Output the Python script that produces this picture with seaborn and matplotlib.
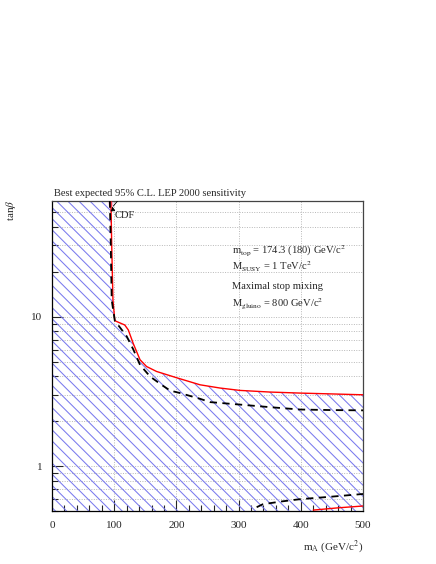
import numpy as np
import pandas as pd
import matplotlib
matplotlib.use("Agg")
import matplotlib.pyplot as plt
import seaborn as sns
from matplotlib.ticker import FixedLocator, NullFormatter, MultipleLocator

# ---- data ----
red_upper_x = [94.7, 96.0, 98.0, 101.0, 117.0, 122.7, 130.7, 141.5, 152.0, 168.0, 200.5, 238.0, 270.0, 302.0, 350.0, 398.7, 450.0, 500.0]
red_upper_y = [60.0, 30.0, 12.9, 9.4, 8.8, 8.15, 6.6, 5.15, 4.64, 4.3, 3.9, 3.5, 3.33, 3.21, 3.13, 3.08, 3.04, 3.0]

dash_upper_x = [93.0, 94.5, 96.0, 101.0, 109.0, 120.0, 131.0, 141.5, 157.6, 176.0, 190.0, 206.0, 238.0, 254.0, 302.0, 350.0, 399.0, 450.0, 500.0]
dash_upper_y = [60.0, 30.0, 12.9, 9.4, 8.5, 7.4, 6.0, 4.76, 3.98, 3.5, 3.2, 3.08, 2.82, 2.68, 2.58, 2.48, 2.39, 2.37, 2.36]

dash_lower_x = [329.0, 339.0, 370.0, 399.0, 452.0, 500.0]
dash_lower_y = [0.53, 0.555, 0.58, 0.60, 0.625, 0.65]

red_lower_x = [420.0, 460.0, 500.0]
red_lower_y = [0.507, 0.525, 0.54]

cdf_x = [90.0, 99.7, 97.0, 92.0]
cdf_y = [60.0, 60.0, 53.0, 53.0]

x_ticks = [0, 100, 200, 300, 400, 500]
y_major = [1, 10]
y_minor = [0.5, 0.6, 0.7, 0.8, 0.9, 2, 3, 4, 5, 6, 7, 8, 9, 20, 30, 40, 50]

title = "Best expected 95% C.L. LEP 2000 sensitivity"
info_lines = [r"m$_{\rm top}$ = 174.3 (180) GeV/c$^{2}$",
              r"M$_{\rm SUSY}$ = 1 TeV/c$^{2}$",
              "Maximal stop mixing",
              r"M$_{\rm gluino}$ = 800 GeV/c$^{2}$"]

XMIN, XMAX, YMIN, YMAX = 0, 500, 0.5, 60

sns.set_theme(style="white")
plt.rcParams["font.family"] = ["Liberation Serif", "DejaVu Serif"]
plt.rcParams["mathtext.fontset"] = "stix"
plt.rcParams["hatch.color"] = "#7a7aee"
plt.rcParams["hatch.linewidth"] = 0.75

fig = plt.figure(figsize=(4.36, 5.64), dpi=100)
ax = fig.add_axes([52/436, 1-511/564, 311/436, 310.5/564])
ax.set_yscale("log")
ax.set_xlim(XMIN, XMAX)
ax.set_ylim(YMIN, YMAX)

# hatched excluded region
px = [XMIN, XMIN] + red_upper_x + [XMAX]
py = [YMIN, YMAX] + red_upper_y + [YMIN]
ax.fill(px, py, facecolor="none", edgecolor="#7a7aee", hatch="\\\\\\", linewidth=0, zorder=1)
ax.fill(cdf_x, cdf_y, facecolor="#f4b8d8", edgecolor="none", zorder=1.5)

df_ru = pd.DataFrame({"x": red_upper_x, "y": red_upper_y})
df_du = pd.DataFrame({"x": dash_upper_x, "y": dash_upper_y})
df_dl = pd.DataFrame({"x": dash_lower_x, "y": dash_lower_y})
df_rl = pd.DataFrame({"x": red_lower_x, "y": red_lower_y})

sns.lineplot(data=df_ru, x="x", y="y", sort=False, estimator=None, color="red", lw=1.0, ax=ax, zorder=3)
sns.lineplot(data=df_rl, x="x", y="y", sort=False, estimator=None, color="red", lw=1.0, ax=ax, zorder=3)
sns.lineplot(data=df_du, x="x", y="y", sort=False, estimator=None, color="black", lw=1.3, ax=ax, zorder=4, dashes=False)
sns.lineplot(data=df_dl, x="x", y="y", sort=False, estimator=None, color="black", lw=1.3, ax=ax, zorder=4, dashes=False)
for ln in ax.lines[2:4]:
    ln.set_dashes((4, 3))

# grid
ax.xaxis.set_major_locator(FixedLocator(x_ticks))
ax.xaxis.set_minor_locator(MultipleLocator(20))
ax.yaxis.set_major_locator(FixedLocator(y_major))
ax.yaxis.set_minor_locator(FixedLocator(y_minor))
ax.yaxis.set_minor_formatter(NullFormatter())
ax.set_yticklabels([str(v) for v in y_major])
ax.set_xticklabels([str(v) for v in x_ticks])
for v in x_ticks[1:-1]:
    ax.axvline(v, color="#b8b8b8", lw=0.7, ls=(0, (1, 1.5)), zorder=0.5)
for v in y_major + y_minor:
    if YMIN < v < YMAX:
        ax.axhline(v, color="#b8b8b8", lw=0.7, ls=(0, (1, 1.5)), zorder=0.5)

ax.tick_params(axis="both", which="major", direction="in", length=8, width=0.8, labelsize=8, pad=7,
               bottom=True, left=True, top=False, right=False)
ax.tick_params(axis="both", which="minor", direction="in", length=4, width=0.8,
               bottom=True, left=True, top=False, right=False)
for s in ax.spines.values():
    s.set_color("black")
    s.set_linewidth(0.9)
ax.spines["right"].set_color("#444444")
ax.spines["top"].set_color("#444444")

ax.set_xlabel("")
ax.set_ylabel("")
fig.text(363/436, 1-547/564, r"m$_{\rm A}$ (GeV/c$^{2}$)", ha="right", va="center", fontsize=8)
fig.text(11/436, 1-210/564, r"tan$\beta$", rotation=90, ha="center", va="center", fontsize=8)
fig.text(54/436, 1-194/564, title, ha="left", va="center", fontsize=7.6)

for i, line in enumerate(info_lines):
    ax.text(0.578, 0.84 - i * 0.055 - (0.006 if i >= 2 else 0), line, transform=ax.transAxes,
            ha="left", va="center", fontsize=7.6, zorder=5)

# CDF label with arrow
ax.text(100, 47.5, "CDF", ha="left", va="center", fontsize=7.6, zorder=5)
ax.annotate("", xy=(96.5, 57), xytext=(98.5, 50),
            arrowprops=dict(arrowstyle="-|>", color="black", lw=0.6, mutation_scale=6), zorder=5)
sns.lineplot(x=[98.5, 106.0], y=[55.0, 60.0], color="black", lw=0.6, ax=ax, zorder=5)

fig.savefig("out.png", dpi=100)
